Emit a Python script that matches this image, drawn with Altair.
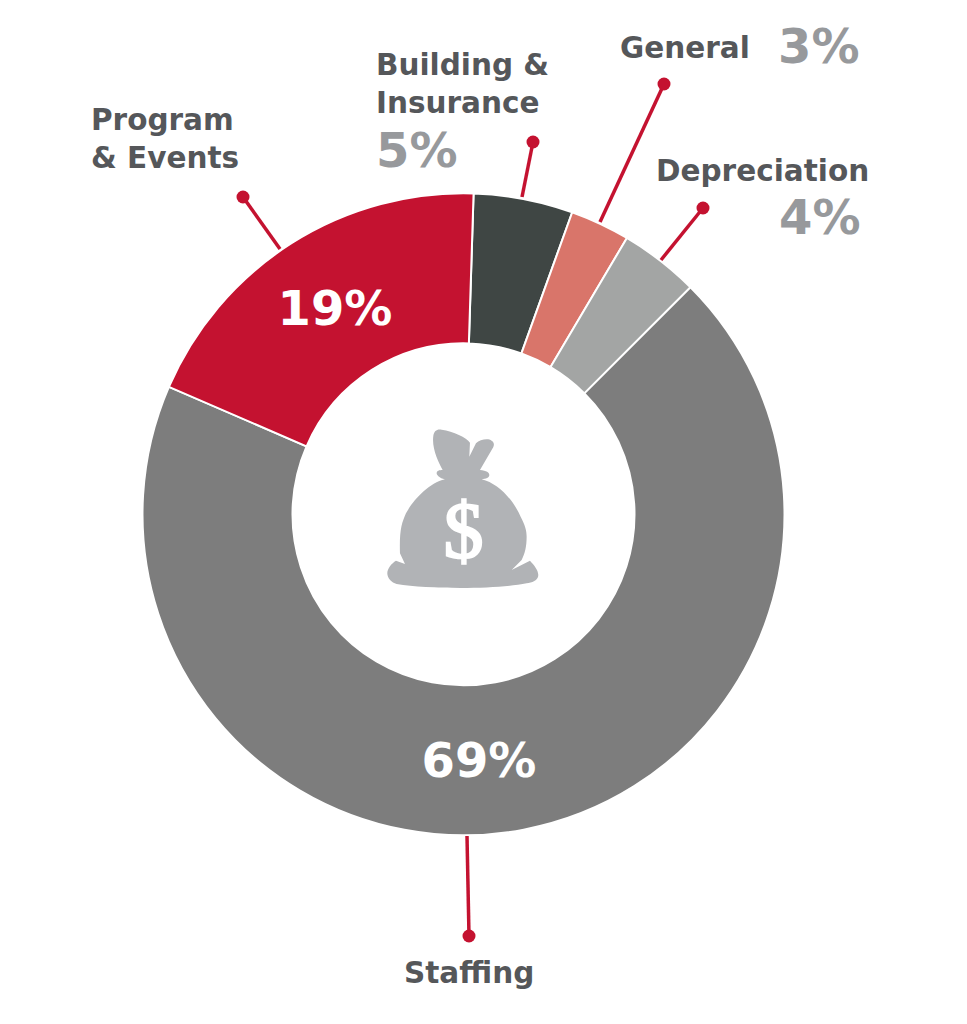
import altair as alt
import pandas as pd

categories = ["Building & Insurance", "General", "Depreciation", "Staffing", "Program & Events"]
shares = [5, 3, 4, 69, 19]
slice_colors = ["#3f4644", "#d9756a", "#a3a5a4", "#7d7d7d", "#c41230"]

# Leader lines in picture coordinates: dot end, then wedge end
leader_x = [533, 664, 703, 469, 243]
leader_y = [142, 84, 208, 936, 197]
leader_x2 = [522, 600, 661, 467, 280]
leader_y2 = [197, 222, 260, 836, 249]

name_text = ["Program", "& Events", "Building &", "Insurance", "General", "Depreciation", "Staffing"]
name_x = [91, 91, 376, 376, 620, 656, 404]
name_y = [130, 168, 75, 113, 58, 181, 983]

pct_text = ["5%", "3%", "4%"]
pct_x = [376, 778, 779]
pct_y = [167, 63, 234]

inner_text = ["19%", "69%"]
inner_x = [335, 479]
inner_y = [325, 777]

BAG = ("M-62-120C-75-145-95-185-90-222C-88-238-78-244-65-241C-30-236 10-218 20-202L18-160L38-200"
       "C50-212 75-216 85-208C95-202 92-192 88-185L50-120C70-118 78-112 78-105C78-96 68-94 55-92"
       "C105-80 150-30 172 20C185 45 190 60 190 80C190 110 185 130 175 150L145 180L200 152C212 165 225 180 225 195"
       "C225 212 205 218 190 220C100 238-100 238-200 222C-215 218-228 205-228 190C-228 175-215 160-202 152"
       "L-175 162L-190 130C-192 60-185 40-172 10C-150-30-105-80-55-92C-72-95-80-105-80-110C-80-118-72-120-62-120Z")

W, H = 951, 1000
X = alt.X("x:Q", scale=alt.Scale(domain=[8, 8 + W]), axis=None)
Y = alt.Y("y:Q", scale=alt.Scale(domain=[8 + H, 8]), axis=None)
X2 = alt.X2("x2:Q")
Y2 = alt.Y2("y2:Q")

start = 0.0314
slices = pd.DataFrame({"cat": categories, "share": shares, "ord": range(len(shares))})
arcs = alt.Chart(slices).mark_arc(
    radius=321, radius2=171, stroke="white", strokeWidth=2
).encode(
    theta=alt.Theta("share:Q", stack=True,
                    scale=alt.Scale(domain=[0, 100], range=[start, start + 6.28319])),
    color=alt.Color("cat:N", scale=alt.Scale(domain=categories, range=slice_colors), legend=None),
    order=alt.Order("ord:Q"),
    x=alt.value(455.5),
    y=alt.value(506.3),
)

leaders = pd.DataFrame({"x": leader_x, "y": leader_y, "x2": leader_x2, "y2": leader_y2})
lines = alt.Chart(leaders).mark_rule(color="#c41230", strokeWidth=3.5).encode(x=X, y=Y, x2=X2, y2=Y2)
dots = alt.Chart(leaders).mark_point(filled=True, color="#c41230", size=169, opacity=1, shape="circle").encode(x=X, y=Y)

names = alt.Chart(pd.DataFrame({"t": name_text, "x": name_x, "y": name_y})).mark_text(
    align="left", baseline="alphabetic", font="DejaVu Sans", fontWeight="bold", fontSize=29.5,
    color="#55575a"
).encode(x=X, y=Y, text="t:N")

pcts = alt.Chart(pd.DataFrame({"t": pct_text, "x": pct_x, "y": pct_y})).mark_text(
    align="left", baseline="alphabetic", font="DejaVu Sans", fontWeight="bold", fontSize=48, color="#97999c"
).encode(x=X, y=Y, text="t:N")

inner = alt.Chart(pd.DataFrame({"t": inner_text, "x": inner_x, "y": inner_y})).mark_text(
    align="center", baseline="alphabetic", font="DejaVu Sans", fontWeight="bold", fontSize=48, color="white"
).encode(x=X, y=Y, text="t:N")

bag = alt.Chart(pd.DataFrame({"x": [463.3], "y": [510]})).mark_point(
    shape=BAG, filled=True, color="#b1b3b6", size=4 / 9, opacity=1, strokeWidth=0
).encode(x=X, y=Y)

dollar = alt.Chart(pd.DataFrame({"t": ["$"], "x": [463.5], "y": [558]})).mark_text(
    align="center", baseline="alphabetic", font="Liberation Sans Narrow", fontSize=80, color="white",
    stroke="white", strokeWidth=2.2
).encode(x=X, y=Y, text="t:N")

chart = alt.layer(arcs, lines, dots, names, pcts, inner, bag, dollar).properties(
    width=W, height=H, padding=0
).configure_view(stroke=None)

chart.save("out.html", embed_options={"renderer": "svg", "actions": False})
